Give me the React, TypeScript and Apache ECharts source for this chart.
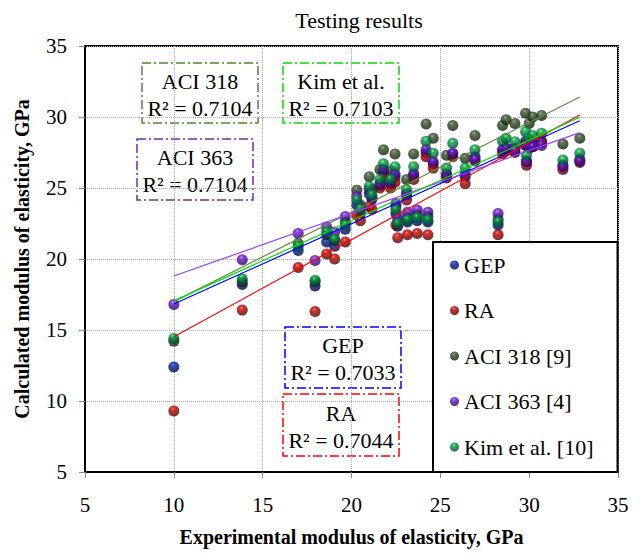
import React, { useEffect, useRef } from "react";
import * as echarts from "echarts";

// Experimental modulus of elasticity (GPa) — shared x for all models
const experimental = [
  10.0, 13.85, 17.0, 17.95, 18.6, 19.05, 19.65, 20.3, 20.5, 21.0, 21.15, 21.6, 21.8,
  22.2, 22.45, 22.5, 22.6, 23.1, 23.15, 23.5, 23.7, 24.2, 24.3, 24.6, 25.35, 25.7,
  26.4, 26.95, 28.25, 28.5, 28.7, 29.2, 29.8, 29.85, 30.0, 30.2, 30.7, 31.9, 32.85,
];

const gepValues = [
  12.4, 18.2, 20.6, 18.1, 21.2, 20.9, 22.1, 23.8, 23.2, 24.6, 24.2, 25.2, 26.1,
  25.3, 25.8, 23.2, 22.3, 24.5, 22.6, 25.9, 22.7, 27.5, 22.6, 26.7, 25.9, 27.4,
  25.8, 27.2, 22.4, 27.6, 27.8, 27.8, 28.3, 26.9, 28.0, 28.1, 28.3, 26.6, 27.0,
];
const raValues = [
  9.3, 16.4, 19.4, 16.3, 20.35, 20.0, 21.2, 23.1, 22.7, 23.7, 23.5, 25.0, 25.8,
  25.0, 25.4, 22.4, 21.5, 24.15, 21.7, 25.6, 21.8, 27.2, 21.7, 26.4, 25.7, 27.2,
  25.3, 26.9, 21.7, 27.4, 27.6, 27.5, 28.1, 26.6, 27.8, 27.9, 28.2, 26.3, 26.8,
];
const aci318Values = [
  14.2, 18.4, 21.1, 18.4, 21.7, 21.3, 22.6, 24.85, 23.8, 25.8, 24.9, 26.3, 27.7,
  26.2, 27.4, 23.7, 22.6, 25.6, 22.9, 27.4, 23.1, 29.5, 23.0, 28.5, 27.3, 29.4,
  27.1, 28.7, 22.8, 29.4, 29.8, 29.55, 30.26, 28.0, 29.55, 30.0, 30.1, 28.1, 28.5,
];
const aci363Values = [
  16.8, 19.95, 21.8, 19.9, 22.25, 21.9, 23.0, 24.4, 23.6, 24.9, 24.3, 25.3, 26.3,
  25.4, 26.0, 23.9, 22.9, 24.6, 23.3, 26.0, 23.45, 27.7, 23.3, 26.85, 26.0, 27.45,
  26.0, 27.0, 23.2, 27.7, 27.8, 27.6, 28.0, 26.85, 27.9, 27.9, 28.0, 26.5, 26.9,
];
const kimValues = [
  14.4, 18.6, 20.9, 18.5, 21.9, 21.4, 22.4, 24.15, 23.5, 25.1, 24.5, 25.6, 26.7,
  25.6, 26.5, 23.45, 22.5, 24.9, 22.75, 26.5, 22.9, 28.3, 22.75, 27.45, 26.4, 28.15,
  26.4, 27.7, 22.6, 28.3, 28.5, 28.26, 28.97, 27.3, 28.5, 28.7, 28.85, 26.97, 27.45,
];

const seriesNames = ["GEP", "RA", "ACI 318 [9]", "ACI 363 [4]", "Kim et al. [10]"];
// Linear trend lines: y at start x and at end x
const trendX = [10.0, 32.85];
const trendStartY = [16.83, 14.53, 17.0, 18.8, 17.05];
const trendEndY = [29.74, 30.14, 31.41, 28.9, 29.98];
// Annotation labels and R² values
const boxLabels = ["ACI 318", "Kim et al.", "ACI 363", "GEP", "RA"];
const boxR2 = ["0.7104", "0.7103", "0.7104", "0.7033", "0.7044"];

const xTicks = [5, 10, 15, 20, 25, 30, 35];

const FONT = "Liberation Serif";

const markerColors = [
  ["#3a5cff", "#001ca0", "#000850"],
  ["#ff5a5a", "#c80000", "#5a0000"],
  ["#7f9c6c", "#34502a", "#15240c"],
  ["#b27aff", "#6618c8", "#300670"],
  ["#70ff70", "#00a040", "#004a3a"],
];
const trendColors = ["#0000ff", "#ff0000", "#5f8a3a", "#9b3cff", "#00dd00"];
const boxColors = ["#4e8a2a", "#00dd00", "#7030a0", "#0000ff", "#ff0000"];
const boxGeom = [
  [142, 63, 116, 60],
  [283, 63, 116, 60],
  [137, 139, 116, 61],
  [285, 327, 116, 61],
  [283, 394, 116, 62],
];

export default function App() {
  const ref = useRef<HTMLDivElement>(null);
  useEffect(() => {
    if (!ref.current) return;
    const chart = echarts.init(ref.current, undefined, { renderer: "svg" });
    const all = [gepValues, raValues, aci318Values, aci363Values, kimValues];

    const scatter = all.map((vals, i) => ({
      name: seriesNames[i],
      type: "scatter",
      symbol: "circle",
      symbolSize: 11,
      z: 2 + i,
      data: experimental.map((x, k) => [x, vals[k]]),
      itemStyle: {
        color: new echarts.graphic.RadialGradient(0.42, 0.3, 0.62, [
          { offset: 0, color: markerColors[i][0] },
          { offset: 0.28, color: markerColors[i][1] },
          { offset: 1, color: markerColors[i][2] },
        ]),
      },
    }));

    const trends = trendStartY.map((sy, i) => ({
      name: seriesNames[i] + " trend",
      type: "line",
      symbol: "none",
      z: 10,
      silent: true,
      data: [
        [trendX[0], sy],
        [trendX[1], trendEndY[i]],
      ],
      lineStyle: { color: trendColors[i], width: 1.2 },
    }));

    const graphics = boxLabels.map((lab, i) => {
      const [x, y, w, h] = boxGeom[i];
      return {
        type: "group",
        x,
        y,
        z: 100,
        children: [
          {
            type: "rect",
            shape: { x: 0, y: 0, width: w, height: h },
            style: {
              fill: "#ffffff",
              stroke: boxColors[i],
              lineWidth: 1.5,
              lineDash: [9, 3, 2, 3],
            },
          },
          {
            type: "text",
            x: w / 2,
            y: h * 0.31,
            style: {
              text: lab,
              fontFamily: FONT,
              fontSize: 22,
              fill: "#000",
              align: "center",
              verticalAlign: "middle",
            },
          },
          {
            type: "text",
            x: w / 2,
            y: h * 0.75,
            style: {
              text: "R² = " + boxR2[i],
              fontFamily: FONT,
              fontSize: 22,
              fill: "#000",
              align: "center",
              verticalAlign: "middle",
            },
          },
        ],
      };
    });

    chart.setOption({
      animation: false,
      backgroundColor: "#ffffff",
      textStyle: { fontFamily: FONT },
      title: {
        text: "Testing results",
        left: 354,
        top: 4,
        textAlign: "center",
        textStyle: { fontFamily: FONT, fontSize: 22, fontWeight: "normal", color: "#000" },
      },
      grid: {
        left: 85,
        right: 26,
        top: 46,
        bottom: 82,
        show: true,
        borderColor: "#000",
        borderWidth: 2,
      },
      xAxis: {
        type: "value",
        min: xTicks[0],
        max: xTicks[xTicks.length - 1],
        interval: 5,
        name: "Experimental modulus of elasticity, GPa",
        nameLocation: "middle",
        nameGap: 55,
        nameTextStyle: { fontFamily: FONT, fontSize: 20, fontWeight: "bold", color: "#000" },
        axisLine: { show: true, lineStyle: { color: "#000", width: 2 } },
        axisTick: { show: true, length: 6, lineStyle: { color: "#888" } },
        axisLabel: { fontFamily: FONT, fontSize: 21, color: "#000", margin: 22 },
        splitLine: { show: true, lineStyle: { color: "#aaa", type: "dotted", width: 1 } },
      },
      yAxis: {
        type: "value",
        min: 5,
        max: 35,
        interval: 5,
        name: "Calculated modulus of elasticity, GPa",
        nameLocation: "middle",
        nameRotate: 90,
        nameGap: 53,
        nameTextStyle: { fontFamily: FONT, fontSize: 20, fontWeight: "bold", color: "#000" },
        axisLine: { show: true, lineStyle: { color: "#000", width: 2 } },
        axisTick: { show: true, length: 6, lineStyle: { color: "#888" } },
        axisLabel: { fontFamily: FONT, fontSize: 21, color: "#000", margin: 18 },
        splitLine: { show: true, lineStyle: { color: "#aaa", type: "dotted", width: 1 } },
      },
      legend: {
        data: seriesNames,
        orient: "vertical",
        left: 433,
        top: 242,
        padding: [12, 24, 14, 17],
        itemGap: 23.5,
        itemWidth: 9,
        itemHeight: 9,
        backgroundColor: "#ffffff",
        borderColor: "#000",
        borderWidth: 2,
        borderRadius: 0,
        icon: "circle",
        textStyle: { fontFamily: FONT, fontSize: 22, color: "#000", lineHeight: 21 },
        z: 50,
      },
      graphic: graphics,
      series: [...scatter, ...trends],
    });
    return () => chart.dispose();
  }, []);
  return (
    <div
      ref={ref}
      style={{ position: "fixed", left: 0, top: 0, width: 644, height: 554 }}
    />
  );
}
